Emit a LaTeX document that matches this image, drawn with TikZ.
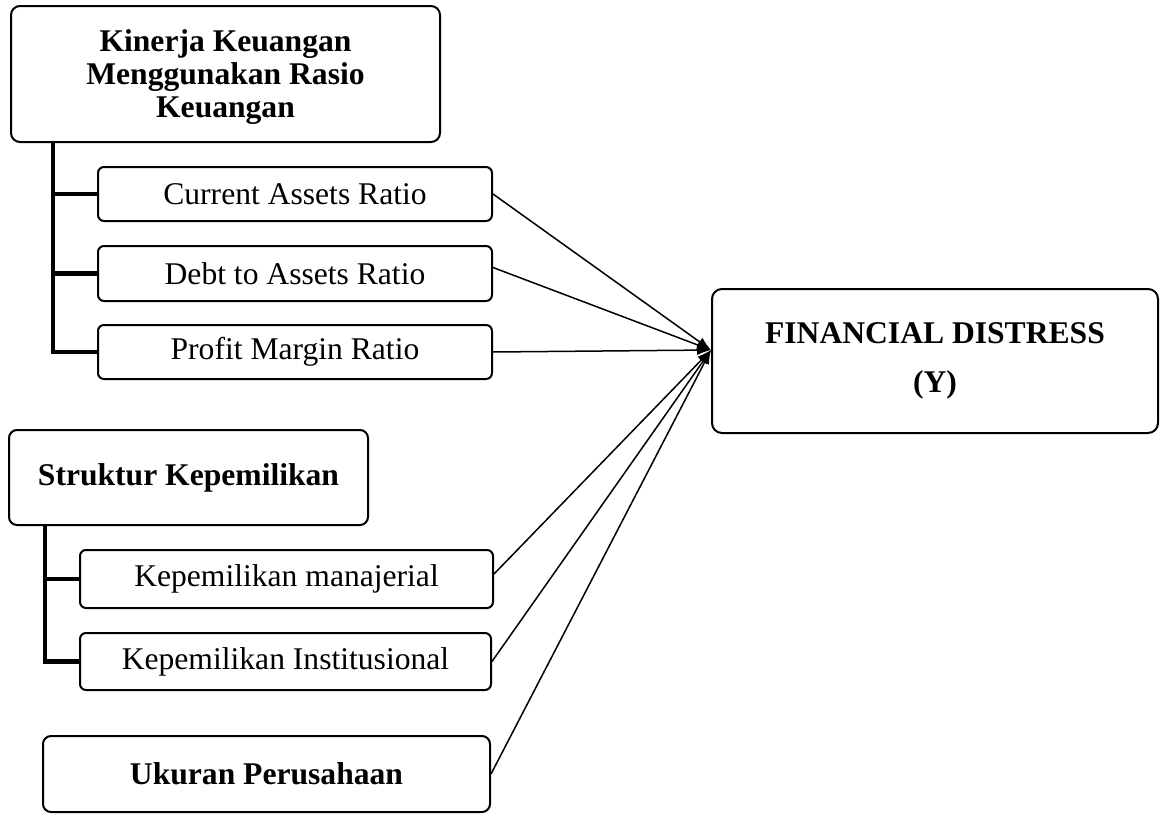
\documentclass[tikz,border=0pt]{standalone}
\usepackage{fontspec}
\setmainfont{Liberation Serif}
\usetikzlibrary{arrows.meta}
\begin{document}
\begin{tikzpicture}[x=1pt,y=-1pt,
  box/.style={draw,line width=2pt,rounded corners=6pt,inner sep=0pt,align=center,
    font=\fontsize{31.6}{33}\selectfont},
  bbox/.style={box,font=\fontsize{31.6}{33}\selectfont\bfseries},
  br/.style={line width=4.5pt},
  conn/.style={line width=1.5pt,-{Latex[length=14pt,width=10pt]}}]
\useasboundingbox (0,0) rectangle (1160,814);
\node[bbox,rounded corners=9pt,minimum width=429pt,minimum height=136pt] (k) at (225.5,74) {\raisebox{-4pt}[\height][\depth]{\begin{tabular}{@{}c@{}}Kinerja Keuangan\\Menggunakan Rasio\\Keuangan\end{tabular}}};
\node[box,minimum width=394pt,minimum height=54pt] (car) at (295,194) {Current Assets Ratio};
\node[box,minimum width=394pt,minimum height=55pt] (dar) at (295,273.5) {Debt to Assets Ratio};
\node[box,minimum width=394pt,minimum height=54pt] (pmr) at (295,352) {Profit Margin Ratio};
\node[bbox,rounded corners=8pt,minimum width=359pt,minimum height=95pt] (s) at (188.5,477.5) {Struktur Kepemilikan};
\node[box,minimum width=413pt,minimum height=58pt] (km) at (286.5,579) {Kepemilikan manajerial};
\node[box,minimum width=411pt,minimum height=57pt] (ki) at (285.5,661.5) {Kepemilikan Institusional};
\node[bbox,rounded corners=8pt,minimum width=447pt,minimum height=76pt] (u) at (266.5,774) {Ukuran Perusahaan};
\node[bbox,rounded corners=10pt,minimum width=446pt,minimum height=144pt,
  font=\fontsize{31.6}{49}\selectfont\bfseries] (f) at (935,361) {FINANCIAL DISTRESS\\(Y)};
\coordinate (t) at (711,350);
\coordinate (kb) at ([xshift=43pt]k.south west);
\draw[br] (kb) |- (pmr.west);
\draw[br] (car.west -| kb) -- (car.west);
\draw[br] (dar.west -| kb) -- (dar.west);
\coordinate (sb) at ([xshift=37pt]s.south west);
\draw[br] (sb) |- (ki.west);
\draw[br] (km.west -| sb) -- (km.west);
\draw[conn] (car.east) -- (t);
\draw[conn] ([yshift=6pt]dar.east) -- (t);
\draw[conn] (pmr.east) -- (t);
\draw[conn] ([yshift=5pt]km.east) -- (t);
\draw[conn] (ki.east) -- (t);
\draw[conn] (u.east) -- (t);
\end{tikzpicture}
\end{document}
